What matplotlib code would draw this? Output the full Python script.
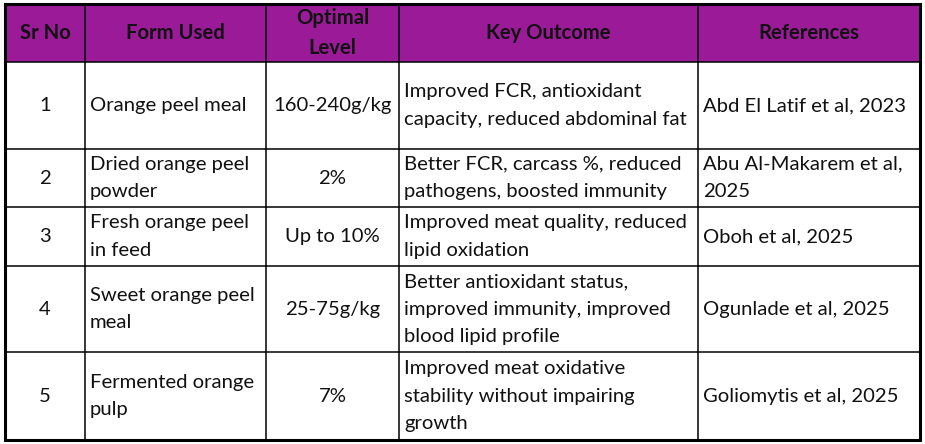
import matplotlib.pyplot as plt

plt.rcParams['font.family'] = ['Lato', 'DejaVu Sans']

# table content
headers = ['Sr No', 'Form Used', 'Optimal\nLevel', 'Key Outcome', 'References']
sr_no = ['1', '2', '3', '4', '5']
forms = ['Orange peel meal', 'Dried orange peel\npowder', 'Fresh orange peel\nin feed',
         'Sweet orange peel\nmeal', 'Fermented orange\npulp']
levels = ['160-240g/kg', '2%', 'Up to 10%', '25-75g/kg', '7%']
outcomes = ['Improved FCR, antioxidant\ncapacity, reduced abdominal fat',
            'Better FCR, carcass %, reduced\npathogens, boosted immunity',
            'Improved meat quality, reduced\nlipid oxidation',
            'Better antioxidant status,\nimproved immunity, improved\nblood lipid profile',
            'Improved meat oxidative\nstability without impairing\ngrowth']
refs = ['Abd El Latif et al, 2023', 'Abu Al-Makarem et al,\n2025', 'Oboh et al, 2025',
        'Ogunlade et al, 2025', 'Goliomytis et al, 2025']

# layout in pixels
col_edges = [5, 85, 266, 399, 698, 920]
row_edges = [4, 62, 149, 207, 266, 352, 440]
aligns = ['center', 'left', 'center', 'left', 'left']
header_color = '#9a1a98'
fs = 14.6

fig = plt.figure(figsize=(9.25, 4.44), dpi=100)
ax = fig.add_axes([0, 0, 1, 1])
ax.set_xlim(0, 925)
ax.set_ylim(444, 0)
ax.axis('off')

# header background
ax.fill_between([col_edges[0], col_edges[-1]], row_edges[0], row_edges[1],
                color=header_color, lw=0)

# grid lines
for x in col_edges[1:-1]:
    ax.plot([x, x], [row_edges[0], row_edges[-1]], color='black', lw=1.1)
for y in row_edges[1:-1]:
    ax.plot([col_edges[0], col_edges[-1]], [y, y], color='black', lw=1.1)
ax.plot([col_edges[0], col_edges[-1], col_edges[-1], col_edges[0], col_edges[0]],
        [row_edges[0], row_edges[0], row_edges[-1], row_edges[-1], row_edges[0]],
        color='black', lw=2.2, solid_joinstyle='miter')


def put(text, col, y0, y1, bold=False):
    ha = 'center' if bold else aligns[col]
    if ha == 'center':
        x = (col_edges[col] + col_edges[col + 1]) / 2
    else:
        x = col_edges[col] + 5
    ax.text(x, (y0 + y1) / 2, text, ha=ha, va='center', fontsize=fs,
            fontweight='bold' if bold else 'normal', color='#111111',
            linespacing=1.75 if not bold else 1.6)


for c, h in enumerate(headers):
    put(h, c, row_edges[0], row_edges[1], bold=True)

columns = [sr_no, forms, levels, outcomes, refs]
for r in range(len(sr_no)):
    for c, col in enumerate(columns):
        put(col[r], c, row_edges[r + 1], row_edges[r + 2])

fig.savefig('out.png', dpi=100)
